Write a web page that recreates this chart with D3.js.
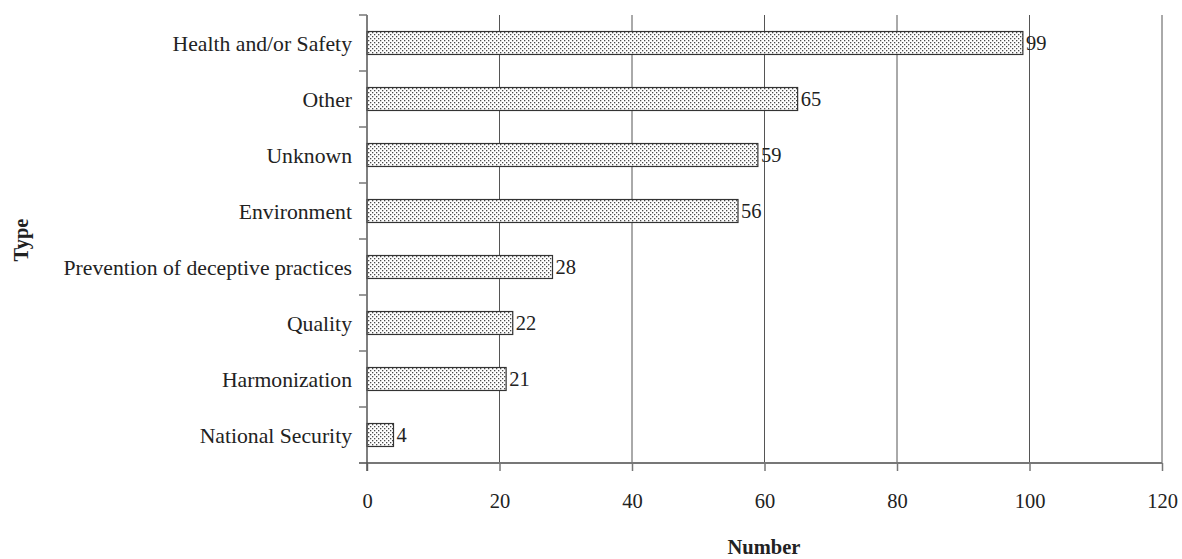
<!DOCTYPE html>
<html><head><meta charset="utf-8">
<script src="https://cdn.jsdelivr.net/npm/d3@7"></script>
<style>body{margin:0;background:#fff}</style>
</head><body>
<svg id="c" width="1182" height="559"></svg>
<script>
const categories = ["Health and/or Safety","Other","Unknown","Environment","Prevention of deceptive practices","Quality","Harmonization","National Security"];
const values = [99,65,59,56,28,22,21,4];
const xTicks = [0,20,40,60,80,100,120];

const svg = d3.select("#c");
const font = "'Liberation Serif', 'Times New Roman', serif";
const fs = 20.5;
const fsCat = 21.7;
const m = {left:367, right:1162, top:15, bottom:463};
const x = d3.scaleLinear().domain([0,120]).range([m.left, m.right]);
const y = d3.scaleBand().domain(categories).range([m.top, m.bottom]).paddingInner(0.59).paddingOuter(0.295);
const yb = d3.scaleBand().domain(categories).range([m.top, m.bottom]);

const defs = svg.append("defs");
const p = defs.append("pattern").attr("id","dots").attr("patternUnits","userSpaceOnUse").attr("width",4).attr("height",4);
p.append("rect").attr("width",4).attr("height",4).attr("fill","#fff");
p.append("rect").attr("x",0).attr("y",0).attr("width",1.3).attr("height",1.3).attr("fill","#4a4a4a");
p.append("rect").attr("x",2).attr("y",2).attr("width",1.3).attr("height",1.3).attr("fill","#4a4a4a");

// gridlines
svg.append("g").selectAll("line").data(xTicks.slice(1)).join("line")
  .attr("x1",d=>x(d)).attr("x2",d=>x(d)).attr("y1",m.top).attr("y2",m.bottom)
  .attr("stroke","#555").attr("stroke-width",1);

// bars
svg.append("g").selectAll("rect").data(values).join("rect")
  .attr("x",x(0)).attr("y",(d,i)=>y(categories[i]))
  .attr("width",d=>x(d)-x(0)).attr("height",y.bandwidth())
  .attr("fill","url(#dots)").attr("stroke","#333").attr("stroke-width",1.2);

// value labels
svg.append("g").selectAll("text").data(values).join("text")
  .attr("x",d=>x(d)+3).attr("y",(d,i)=>y(categories[i])+y.bandwidth()/2)
  .attr("dy","0.35em").attr("font-family",font).attr("font-size",fs).attr("fill","#222")
  .text(d=>d);

// x axis
const xAxis = svg.append("g").attr("transform",`translate(0,${m.bottom})`)
  .call(d3.axisBottom(x).tickValues(xTicks).tickSize(8).tickPadding(22));
xAxis.select(".domain").attr("stroke","#777").attr("stroke-width",2).attr("d",`M${x(0)-8},0H${x(120)}`);
xAxis.selectAll(".tick line").attr("stroke","#777").attr("stroke-width",1.5);
xAxis.selectAll("text").attr("font-family",font).attr("font-size",fs).attr("fill","#222");

// y axis
const yAxis = svg.append("g");
yAxis.append("line").attr("x1",m.left).attr("x2",m.left).attr("y1",m.top).attr("y2",m.bottom+8).attr("stroke","#555").attr("stroke-width",1.5);
const bounds = categories.map(c=>yb(c));
yAxis.selectAll("line.t").data(bounds).join("line").attr("class","t")
  .attr("x1",m.left-8).attr("x2",m.left).attr("y1",d=>d).attr("y2",d=>d)
  .attr("stroke","#777").attr("stroke-width",1.5);
yAxis.selectAll("text").data(categories).join("text")
  .attr("x",m.left-15).attr("y",d=>yb(d)+yb.bandwidth()/2).attr("dy","0.35em")
  .attr("text-anchor","end").attr("font-family",font).attr("font-size",fsCat).attr("fill","#222")
  .text(d=>d);

// titles
svg.append("text").attr("x",764).attr("y",554).attr("text-anchor","middle")
  .attr("font-family",font).attr("font-size",fs).attr("font-weight","bold").attr("fill","#222").text("Number");
svg.append("text").attr("transform","translate(28,240) rotate(-90)").attr("text-anchor","middle")
  .attr("font-family",font).attr("font-size",fs).attr("font-weight","bold").attr("fill","#222").text("Type");
</script>
</body></html>
